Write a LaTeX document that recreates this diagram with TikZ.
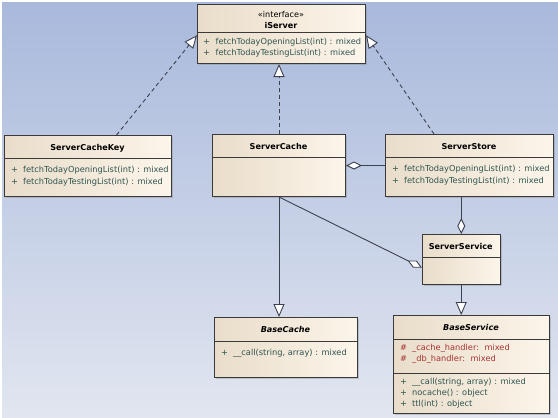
\documentclass[tikz,border=0pt]{standalone}
\usepackage{fontspec}
\setmainfont{DejaVu Sans}
\usetikzlibrary{arrows.meta,shadows,calc}
\definecolor{bgtop}{HTML}{A9B9DC}
\definecolor{bgbot}{HTML}{E1E6F0}
\definecolor{boxl}{HTML}{E9DDCA}
\definecolor{boxr}{HTML}{FCF5EA}
\definecolor{edge}{HTML}{3A3A3A}
\definecolor{optxt}{HTML}{2F5550}
\definecolor{attxt}{HTML}{A83232}
\definecolor{conn}{HTML}{3C4150}
\begin{document}
\begin{tikzpicture}[x=1pt,y=-1pt,
  classbox/.style={draw=edge, line width=1pt, left color=boxl, right color=boxr,
    anchor=north west, inner sep=0pt,
    drop shadow={shadow xshift=1.5pt, shadow yshift=-1.5pt, opacity=0.35}},
  divider/.style={draw=edge, line width=0.8pt},
  optext/.style={anchor=mid west, inner sep=0pt, text=optxt, font=\fontsize{8.25}{9}\selectfont},
  attext/.style={anchor=mid west, inner sep=0pt, text=attxt, font=\fontsize{8.25}{9}\selectfont},
  title/.style={anchor=mid, inner sep=0pt, font=\bfseries\fontsize{8.1}{9}\selectfont},
  stereo/.style={anchor=mid, inner sep=0pt, font=\fontsize{8.1}{9}\selectfont},
  ititle/.style={anchor=mid, inner sep=0pt, font=\bfseries\itshape\fontsize{8.1}{9}\selectfont},
  conline/.style={draw=conn, line width=0.9pt},
  realize/.style={conline, dash pattern=on 4pt off 3pt, -{Triangle[length=13pt,width=11pt,fill=white]}},
  general/.style={conline, -{Triangle[length=13pt,width=11pt,fill=white]}},
  aggreg/.style={conline, -{Diamond[length=16pt,width=8pt,fill=white]}}
]
\useasboundingbox (0,0) rectangle (558,418);
\fill[white] (0,0) rectangle (558,418);
\shade[top color=bgtop, bottom color=bgbot] (2,2) rectangle (558,418);

% iServer
\node[classbox, minimum width=168pt, minimum height=59pt] (iserver) at (197,4) {};
\draw[divider] (197,32) -- (365,32);
\node[stereo] (is1) at (281,15) {«interface»};
\node[title] (is2) at (281,26) {iServer};
\node[optext] (is3) at (203,42) {+};
\node[optext] (is4) at (215.5,42) {fetchTodayOpeningList(int) : mixed};
\node[optext] (is5) at (203,53) {+};
\node[optext] (is6) at (215.5,53) {fetchTodayTestingList(int) : mixed};

% ServerCacheKey
\node[classbox, minimum width=167pt, minimum height=61pt] (sck) at (4,135) {};
\draw[divider] (4,158) -- (171,158);
\node[title] (sck1) at (87.5,148) {ServerCacheKey};
\node[optext] (sck2) at (11,170) {+};
\node[optext] (sck3) at (23,170) {fetchTodayOpeningList(int) : mixed};
\node[optext] (sck4) at (11,182) {+};
\node[optext] (sck5) at (23,182) {fetchTodayTestingList(int) : mixed};

% ServerCache
\node[classbox, minimum width=133pt, minimum height=62pt] (sc) at (212,134) {};
\draw[divider] (212,157) -- (345,157);
\node[title] (sc1) at (278.5,147) {ServerCache};

% ServerStore
\node[classbox, minimum width=168pt, minimum height=62pt] (ss) at (385,134) {};
\draw[divider] (385,157) -- (553,157);
\node[title] (ss1) at (469,147) {ServerStore};
\node[optext] (ss2) at (392,169) {+};
\node[optext] (ss3) at (404,169) {fetchTodayOpeningList(int) : mixed};
\node[optext] (ss4) at (392,181) {+};
\node[optext] (ss5) at (404,181) {fetchTodayTestingList(int) : mixed};

% ServerService
\node[classbox, minimum width=77.5pt, minimum height=50pt] (svc) at (422,234) {};
\draw[divider] (422,257) -- (499.5,257);
\node[title] (svc1) at (460.75,247) {ServerService};

% BaseCache
\node[classbox, minimum width=143pt, minimum height=60pt] (bc) at (214,317) {};
\draw[divider] (214,341) -- (357,341);
\node[ititle] (bc1) at (285.5,330) {BaseCache};
\node[optext] (bc2) at (221,353) {+};
\node[optext] (bc3) at (233,353) {\_\_call(string, array) : mixed};

% BaseService
\node[classbox, minimum width=156pt, minimum height=98pt] (bs) at (393,315) {};
\draw[divider] (393,339) -- (549,339);
\draw[divider] (393,373) -- (549,373);
\node[ititle] (bs1) at (471,328) {BaseService};
\node[attext] (bs2) at (400,348) {\#};
\node[attext] (bs3) at (412,348) {\_cache\_handler:\hspace{2pt} mixed};
\node[attext] (bs4) at (400,359) {\#};
\node[attext] (bs5) at (412,359) {\_db\_handler:\hspace{2pt} mixed};
\node[optext] (bs6) at (400,382) {+};
\node[optext] (bs7) at (412,382) {\_\_call(string, array) : mixed};
\node[optext] (bs8) at (400,393) {+};
\node[optext] (bs9) at (412,393) {nocache() : object};
\node[optext] (bs10) at (400,404) {+};
\node[optext] (bs11) at (412,404) {ttl(int) : object};

% connectors
\draw[realize] ($(sck.north west)!0.67!(sck.north east)$) -- ($(iserver.north west)!0.52!(iserver.south west)$);
\draw[realize] (sc.north) -- (sc.north |- iserver.south);
\draw[realize] ($(ss.north west)!0.29!(ss.north east)$) -- ($(iserver.north east)!0.52!(iserver.south east)$);
\draw[aggreg] (ss.west) -- (sc.east);
\draw[aggreg] (svc.north |- ss.south) -- (svc.north);
\draw[aggreg] (sc.south) -- ($(svc.north west)!0.66!(svc.south west)$);
\draw[general] (sc.south) -- (sc.south |- bc.north);
\draw[general] (svc.south) -- (svc.south |- bs.north);
\end{tikzpicture}
\end{document}
